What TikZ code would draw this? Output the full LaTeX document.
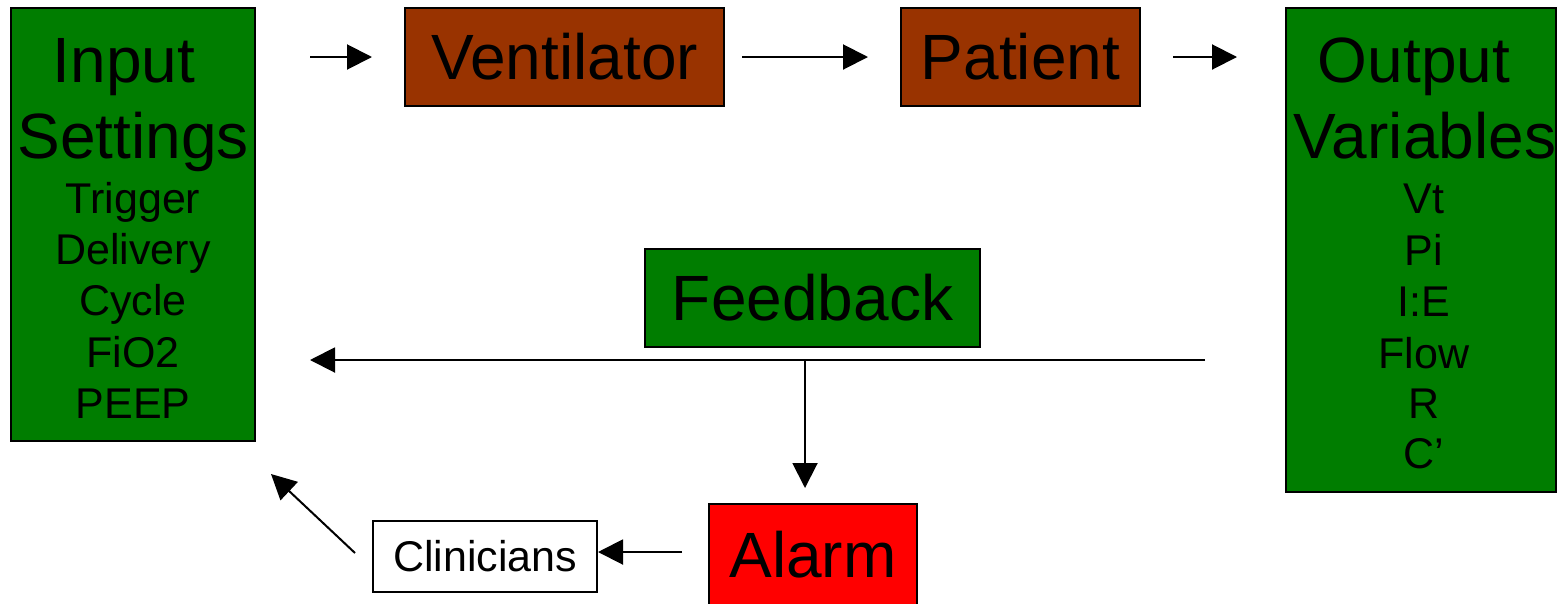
\documentclass[tikz,border=0pt]{standalone}
\usepackage{fontspec}
\setmainfont{Liberation Sans}
\usetikzlibrary{arrows.meta}
\definecolor{boxgreen}{RGB}{0,125,0}
\definecolor{boxbrown}{RGB}{153,51,0}
\definecolor{boxred}{RGB}{255,0,0}
\tikzset{
  x=1pt, y=-1pt,
  bigfont/.style={font=\fontsize{64}{70}\selectfont},
  smallfont/.style={font=\fontsize{43}{48}\selectfont},
  blk/.style={draw=black, line width=2pt, inner sep=0pt, outer sep=0pt, anchor=north west},
  greenbox/.style={blk, fill=boxgreen},
  brownbox/.style={blk, fill=boxbrown},
  redbox/.style={blk, fill=boxred},
  whitebox/.style={blk, fill=white},
  big/.style={bigfont, anchor=base, inner sep=0pt},
  small/.style={smallfont, anchor=base, inner sep=0pt},
  arr/.style={line width=2pt, -{Triangle[length=25pt,width=25pt]}},
}
\begin{document}
\begin{tikzpicture}
\useasboundingbox (0,0) rectangle (1557,603);
% boxes
\node[greenbox, minimum width=244pt, minimum height=433pt] (inS) at (11,8) {};
\node[brownbox, bigfont, minimum width=319pt, minimum height=98pt] (vent) at (405,8) {Ventilator\hspace{11pt}};
\node[brownbox, bigfont, minimum width=239pt, minimum height=98pt] (pat) at (901,8) {Patient};
\node[greenbox, minimum width=270pt, minimum height=484pt] (outV) at (1286,8) {};
\node[greenbox, bigfont, minimum width=335pt, minimum height=98pt] (fbk) at (645,249) {Feedback\hspace{14pt}};
\node[redbox, bigfont, minimum width=208pt, minimum height=101pt] (alarm) at (709,504) {Alarm\hspace{4pt}};
\node[whitebox, smallfont, minimum width=224pt, minimum height=71pt] (clin) at (373,521) {Clinicians\hspace{4pt}};
% texts of input box
\node[big] (tIn) at (124,82) {Input};
\node[big] (tSet) at (133,158) {Settings};
\node[small] (tTrig) at (133,213) {Trigger};
\node[small] (tDel) at (133,264) {Delivery};
\node[small] (tCyc) at (133,315) {Cycle};
\node[small] (tFi) at (133,367) {FiO2};
\node[small] (tPeep) at (133,418) {PEEP};
% texts of output box
\node[big] (tOut) at (1414,82) {Output};
\node[big] (tVar) at (1425,158) {Variables};
\node[small] (tVt) at (1424,213) {Vt};
\node[small] (tPi) at (1424,265) {Pi};
\node[small] (tIE) at (1424,316) {I:E};
\node[small] (tFlow) at (1424,368) {Flow};
\node[small] (tR) at (1424,418) {R};
\node[small] (tC) at (1424,468) {C’};
% connectors
\coordinate (j) at (805,360);
\coordinate (c1) at (355,553);
\coordinate (c2) at (271,474);
\draw[arr, shorten <=55pt, shorten >=33pt] (inS.east |- vent.west) -- (vent.west);
\draw[arr, shorten <=18pt, shorten >=33pt] (vent.east) -- (pat.west |- vent.east);
\draw[arr, shorten <=33pt, shorten >=49pt] (pat.east) -- (outV.west |- pat.east);
\draw[arr, shorten <=81pt, shorten >=55pt] (outV.west |- j) -- (inS.east |- j);
\draw[arr, shorten >=16pt] (j) -- (alarm.north -| j);
\draw[arr, shorten <=27pt, shorten >=1pt] (alarm.west |- 0,552) -- (clin.east |- 0,552);
\draw[arr] (c1) -- (c2);
\end{tikzpicture}
\end{document}
